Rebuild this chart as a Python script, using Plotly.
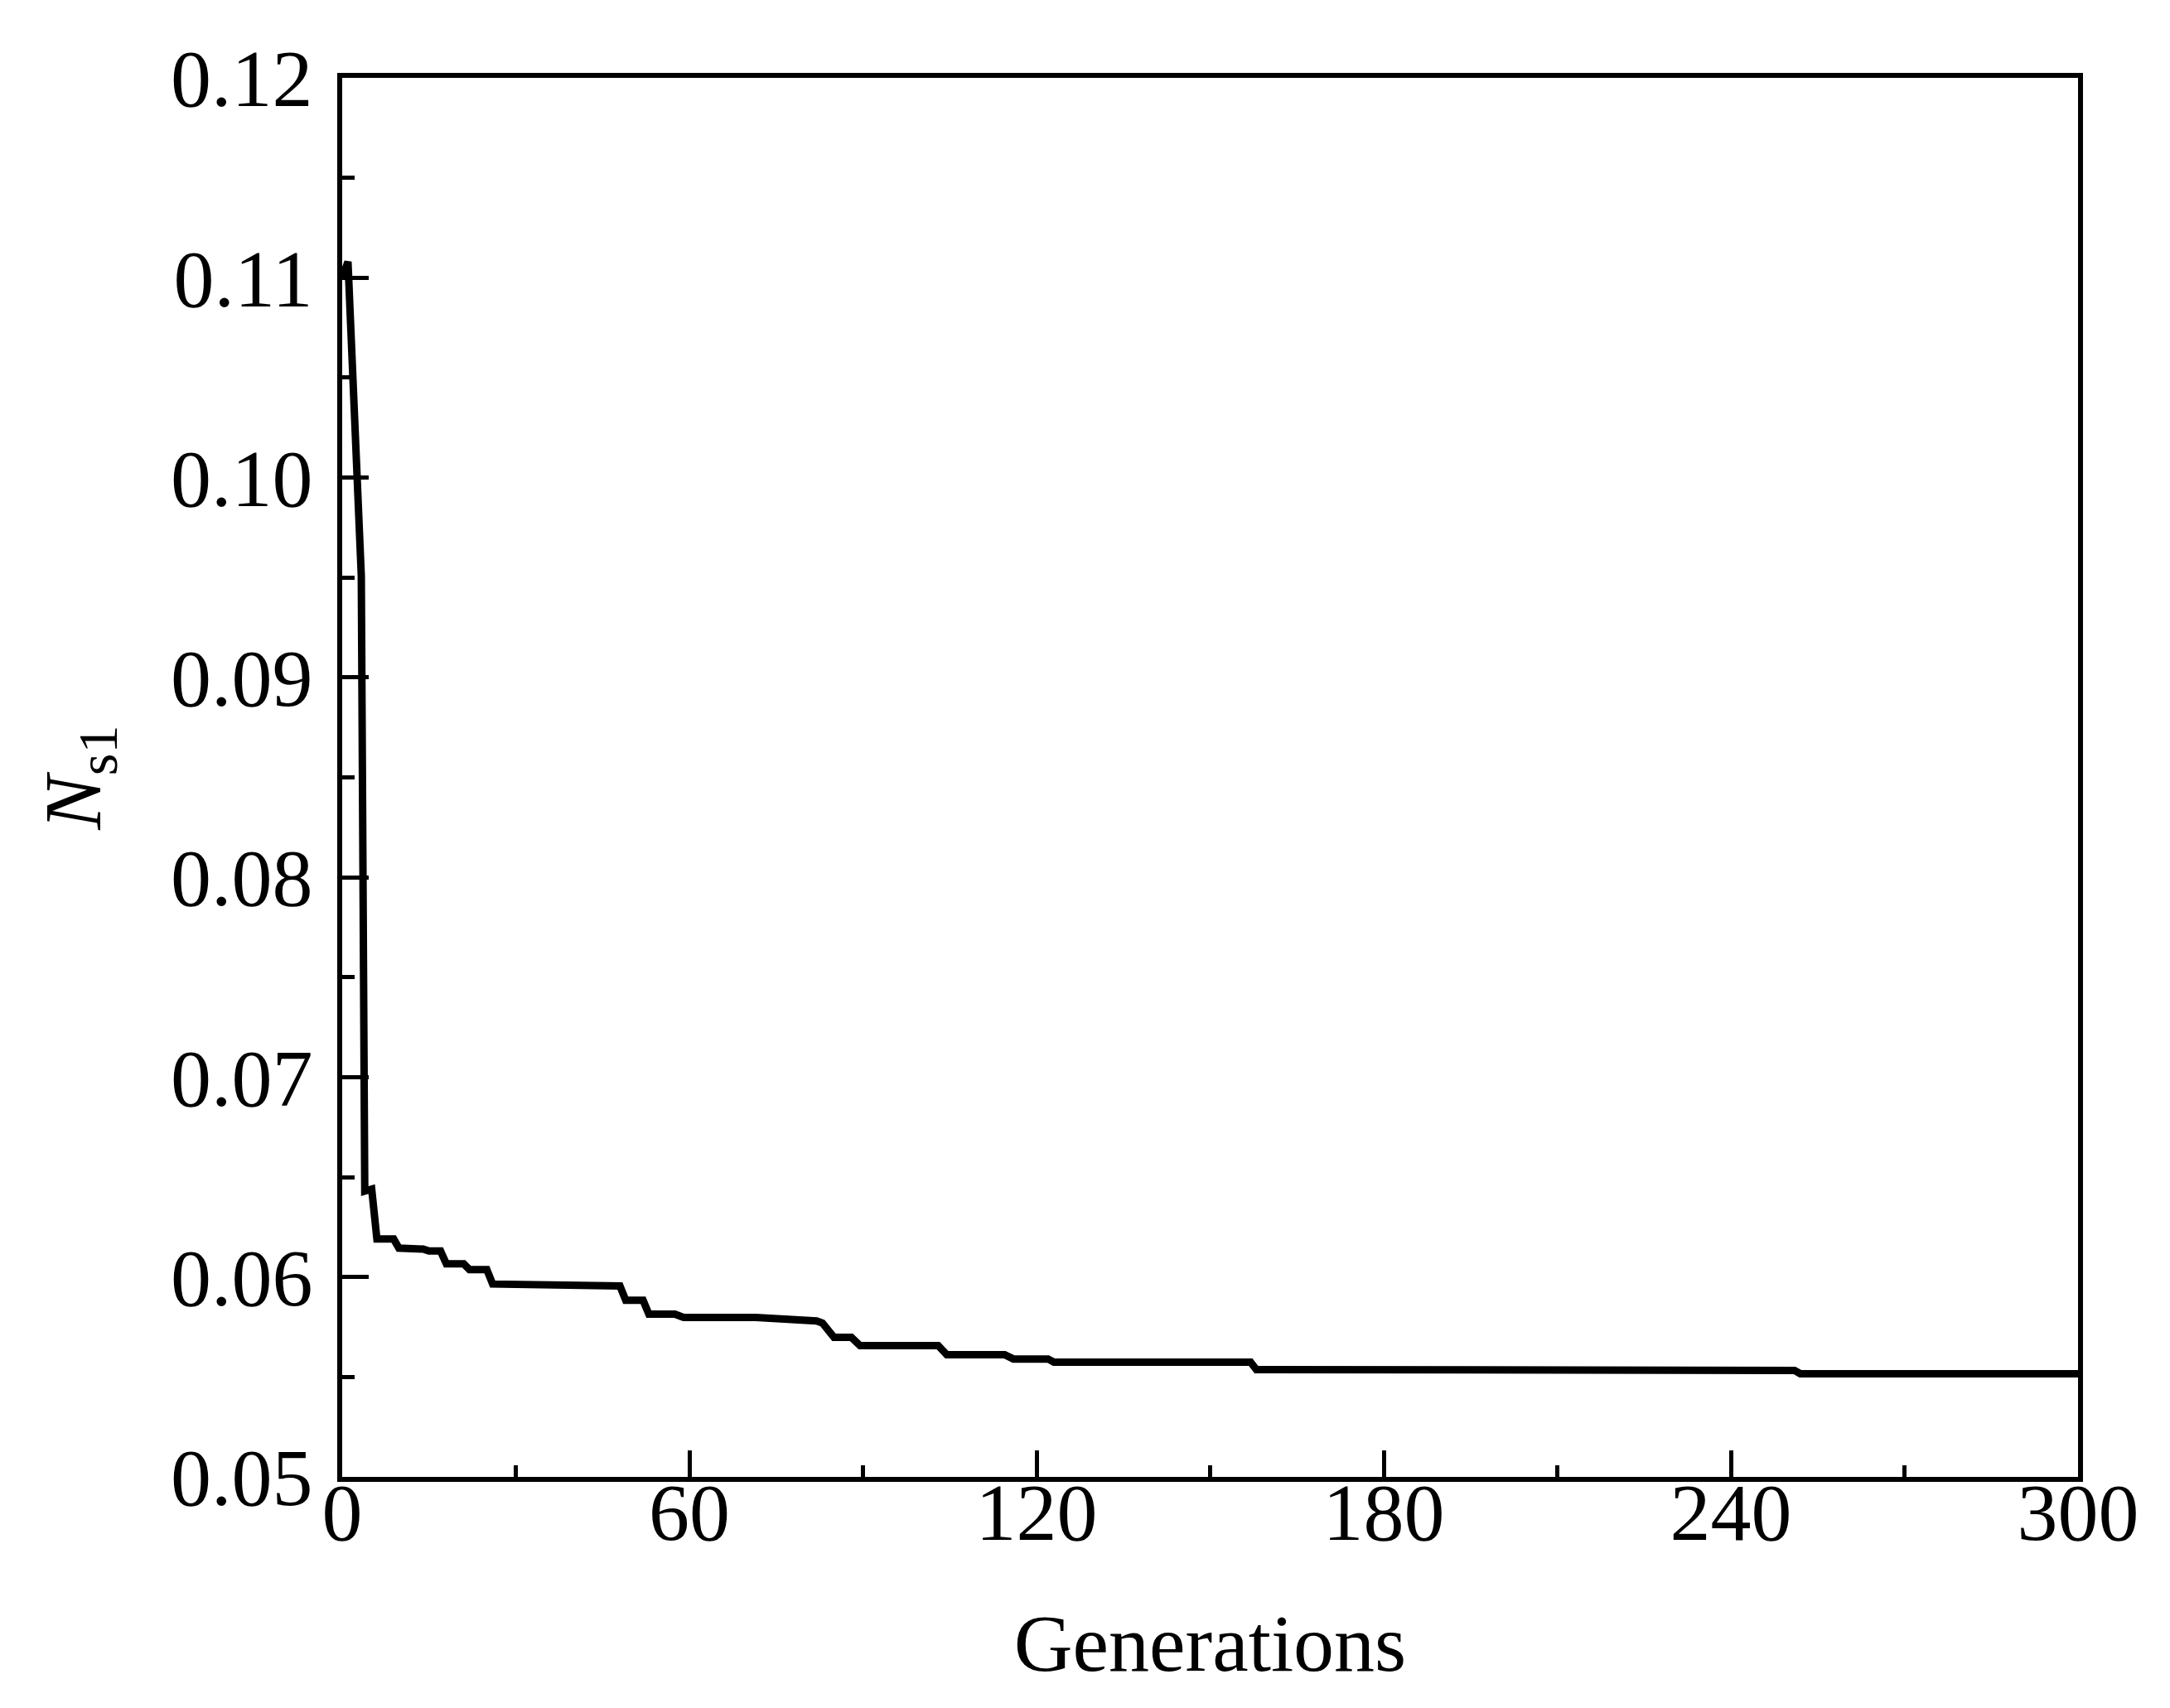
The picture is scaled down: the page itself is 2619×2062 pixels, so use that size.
import plotly.graph_objects as go

# Data
generations = [0, 1, 3.3, 3.9, 5.1, 6.0, 8.9, 9.8, 14, 15, 17, 18, 21, 22, 25, 26,
               48, 49, 52, 53, 57.5, 59, 71.5, 77, 82, 83, 85, 88, 89.5, 103, 104.5,
               114.5, 116, 122, 123, 157, 158, 251, 252, 300]
ns1 = [0.1100, 0.1108, 0.0951, 0.0643, 0.0644, 0.0619, 0.0619, 0.06145, 0.0614, 0.0613,
       0.0613, 0.06066, 0.06066, 0.06037, 0.06037, 0.05965, 0.05955, 0.05884, 0.05884,
       0.05814, 0.05814, 0.05798, 0.05798, 0.0579, 0.0578, 0.0577, 0.05698, 0.05698,
       0.05657, 0.05657, 0.05611, 0.05611, 0.0559, 0.0559, 0.05574, 0.05574, 0.05537,
       0.05533, 0.05516, 0.05516]

x_ticks = [0, 60, 120, 180, 240, 300]
y_ticks = [0.05, 0.06, 0.07, 0.08, 0.09, 0.10, 0.11, 0.12]

FONT = "Liberation Serif"
FS = 98

fig = go.Figure()
fig.add_trace(go.Scatter(x=generations, y=ns1, mode="lines",
                         line=dict(color="black", width=9), showlegend=False))

axis_common = dict(showline=True, linecolor="black", linewidth=6, mirror=True,
                   showgrid=False, zeroline=False, ticks="inside", tickcolor="black",
                   tickwidth=5, ticklen=32,
                   tickfont=dict(family=FONT, size=FS, color="black"))

fig.update_xaxes(range=[0, 300], tickvals=x_ticks, ticktext=[str(v) for v in x_ticks],
                 title=dict(text="Generations", font=dict(family=FONT, size=FS, color="black"),
                            standoff=72),
                 minor=dict(ticks="inside", ticklen=14, tickwidth=5, tickcolor="black",
                            dtick=30, tick0=0, showgrid=False),
                 ticklabelstandoff=-48,
                 **axis_common)
fig.update_yaxes(range=[0.05, 0.12], tickvals=y_ticks, ticktext=[f"{v:.2f}" for v in y_ticks],
                 title=dict(text="<i>N</i><sub>s1</sub>", font=dict(family=FONT, size=FS, color="black"),
                            standoff=54),
                 minor=dict(ticks="inside", ticklen=15, tickwidth=5, tickcolor="black",
                            dtick=0.005, tick0=0.05, showgrid=False),
                 ticklabelstandoff=10,
                 **axis_common)

fig.update_layout(width=2619, height=2062,
                  margin=dict(l=405, r=119, t=86, b=287, autoexpand=False),
                  plot_bgcolor="white", paper_bgcolor="white",
                  font=dict(family=FONT, color="black"))

fig.write_html("out.html")
